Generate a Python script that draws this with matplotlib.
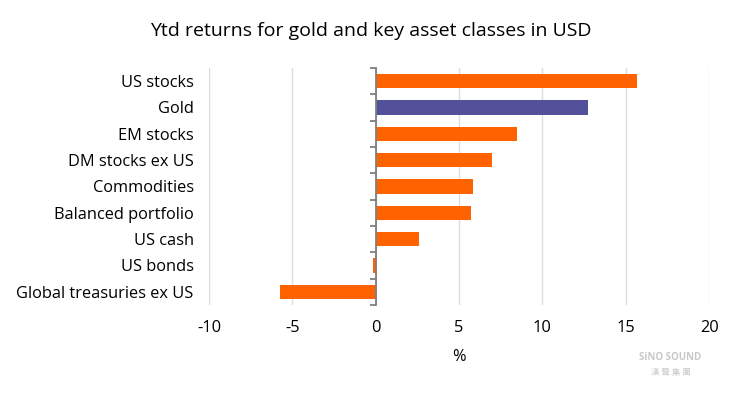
import numpy as np
import matplotlib.pyplot as plt

# Data
categories = ["US stocks", "Gold", "EM stocks", "DM stocks ex US", "Commodities",
              "Balanced portfolio", "US cash", "US bonds", "Global treasuries ex US"]
returns = [15.65, 12.75, 8.45, 7.0, 5.85, 5.7, 2.6, -0.15, -5.75]
highlight = "Gold"

orange = "#FF6200"
purple = "#525199"

plt.rcParams['font.family'] = ['Open Sans', 'Noto Sans CJK SC', 'DejaVu Sans']
plt.rcParams['axes.unicode_minus'] = False

fig = plt.figure(figsize=(7.41, 3.95), dpi=100)
ax = fig.add_axes([0.282, 0.228, 0.675, 0.6])

y = np.arange(len(categories))
colors = [purple if c == highlight else orange for c in categories]
ax.barh(y, returns, height=0.55, color=colors, zorder=3)

ax.set_ylim(len(categories) - 0.5, -0.5)
ax.set_xlim(-10, 20)
ax.set_xticks(np.arange(-10, 21, 5))
ax.set_yticks(y)
ax.set_yticklabels(categories)
ax.set_yticks(np.arange(-0.5, len(categories), 1), minor=True)
# labels hang off the spine at x=0, pad is in points
ax.tick_params(axis='y', which='major', length=0, pad=131, labelsize=11.8)
ax.tick_params(axis='y', which='minor', length=4, width=1.3, color="#7f7f7f")
ax.tick_params(axis='x', length=0, labelsize=11.8, pad=11)

# y axis drawn at x=0
ax.spines['left'].set_position(('data', 0))
ax.spines['left'].set_color("#7f7f7f")
ax.spines['left'].set_linewidth(1.3)
ax.spines['left'].set_zorder(4)
for s in ['top', 'right', 'bottom']:
    ax.spines[s].set_visible(False)

ax.grid(axis='x', color="#dcdcdc", linewidth=1, zorder=0)
ax.set_xlabel("%", fontsize=11.8, labelpad=9)

fig.text(0.5, 0.922, "Ytd returns for gold and key asset classes in USD",
         ha='center', va='center', fontsize=14)

# watermark
fig.text(0.905, 0.095, "SiNO SOUND", ha='center', va='center', fontsize=7,
         color="#c8c8c8", fontweight='bold')
fig.text(0.905, 0.055, "漢 聲 集 團", ha='center', va='center', fontsize=6,
         color="#c8c8c8")

fig.savefig("out.png", dpi=100)
